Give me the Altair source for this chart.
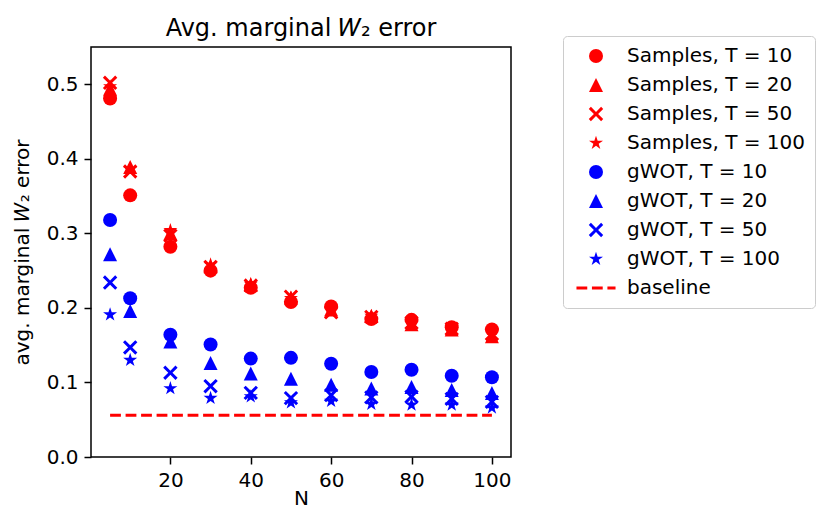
import altair as alt
import pandas as pd

N = [5, 10, 20, 30, 40, 50, 60, 70, 80, 90, 100]
samples_T10 = [0.481, 0.351, 0.282, 0.250, 0.227, 0.208, 0.202, 0.185, 0.184, 0.174, 0.171]
samples_T20 = [0.494, 0.389, 0.300, 0.256, 0.231, 0.214, 0.198, 0.189, 0.178, 0.171, 0.162]
samples_T50 = [0.502, 0.383, 0.297, 0.255, 0.230, 0.215, 0.194, 0.188, 0.180, 0.172, 0.165]
samples_T100 = [0.497, 0.386, 0.304, 0.258, 0.232, 0.213, 0.197, 0.189, 0.179, 0.171, 0.167]
gwot_T10 = [0.318, 0.213, 0.164, 0.151, 0.132, 0.133, 0.125, 0.114, 0.117, 0.109, 0.107]
gwot_T20 = [0.272, 0.196, 0.155, 0.126, 0.112, 0.105, 0.097, 0.092, 0.094, 0.090, 0.086]
gwot_T50 = [0.234, 0.147, 0.113, 0.095, 0.086, 0.079, 0.083, 0.080, 0.081, 0.078, 0.074]
gwot_T100 = [0.191, 0.130, 0.092, 0.079, 0.081, 0.073, 0.075, 0.071, 0.070, 0.070, 0.066]
baseline_N = [5, 100]
baseline_value = 0.056

series_names = [
    "Samples, T = 10", "Samples, T = 20", "Samples, T = 50", "Samples, T = 100",
    "gWOT, T = 10", "gWOT, T = 20", "gWOT, T = 50", "gWOT, T = 100",
]
series_values = [samples_T10, samples_T20, samples_T50, samples_T100,
                 gwot_T10, gwot_T20, gwot_T50, gwot_T100]
legend_domain = series_names + ["baseline"]

rows = []
for name, vals in zip(series_names, series_values):
    for n, v in zip(N, vals):
        rows.append({"N": n, "value": v, "series": name})
points_df = pd.DataFrame(rows)
line_df = pd.DataFrame({"N": baseline_N, "value": [baseline_value] * len(baseline_N)})

RED = "#ff0000"
BLUE = "#0000ff"
colors = [RED] * 4 + [BLUE] * 4 + [RED]

TRI = "M0,-1L1,1L-1,1Z"
e, k, a = 0.88, 0.15, 0.30
XSH = (f"M0,{-a}L{e-k},{-e-k}L{e+k},{-e+k}L{a},0L{e+k},{e-k}L{e-k},{e+k}"
       f"L0,{a}L{-e+k},{e+k}L{-e-k},{e-k}L{-a},0L{-e-k},{-e+k}L{-e+k},{-e-k}Z")
STAR = ("M0,-1.05L0.236,-0.324L0.999,-0.324L0.381,0.124L0.617,0.849L0,0.401"
        "L-0.617,0.849L-0.381,0.124L-0.999,-0.324L-0.236,-0.324Z")
h = 0.207
DASH = (f"M-2.79,{-h}H-1.25V{h}H-2.79Z"
        f"M-0.58,{-h}H0.96V{h}H-0.58Z"
        f"M1.63,{-h}H2.79V{h}H1.63Z")
shapes = ["circle", TRI, XSH, STAR] * 2 + [DASH]

FONT = "DejaVu Sans"

x_enc = alt.X(
    "N:Q",
    scale=alt.Scale(domain=[0.25, 104.75], nice=False, zero=False),
    axis=alt.Axis(values=[20, 40, 60, 80, 100], title="N", titlePadding=-2),
)
y_enc = alt.Y(
    "value:Q",
    scale=alt.Scale(domain=[0, 0.55], nice=False),
    axis=alt.Axis(values=[0, 0.1, 0.2, 0.3, 0.4, 0.5], format=".1f",
                  title="avg. marginal 𝑊₂ error", titlePadding=14),
)

line = alt.Chart(line_df).mark_line(
    color=RED, strokeDash=[10.8, 4.7], strokeWidth=2.9
).encode(x=x_enc, y=y_enc)

points = alt.Chart(points_df).mark_point(
    filled=True, opacity=1, size=196, strokeWidth=0
).encode(
    x=x_enc,
    y=y_enc,
    color=alt.Color("series:N", scale=alt.Scale(domain=legend_domain, range=colors),
                    legend=alt.Legend(title=None)),
    shape=alt.Shape("series:N", scale=alt.Scale(domain=legend_domain, range=shapes),
                    legend=alt.Legend(title=None)),
)

chart = alt.layer(line, points).properties(
    width=420,
    height=410,
    title=alt.TitleParams(
        text="Avg. marginal 𝑊₂ error", fontSize=24, font=FONT, fontWeight="normal",
        anchor="middle", baseline="alphabetic", offset=13, dy=37, frame="group",
        color="black",
    ),
    autosize=alt.AutoSizeParams(type="none"),
    padding={"left": 83, "top": 39, "right": 305, "bottom": 60},
).configure_view(
    stroke="black", strokeWidth=1.5
).configure_axis(
    grid=False, domain=False, tickColor="black", tickWidth=1.5, tickSize=7,
    labelPadding=6, labelFont=FONT, labelFontSize=20, labelColor="black",
    titleFont=FONT, titleFontSize=20, titleFontWeight="normal", titleColor="black",
).configure_legend(
    orient="none", legendX=472, legendY=-11, padding=10, rowPadding=9,
    symbolSize=196, symbolStrokeWidth=0, symbolOffset=13, labelOffset=21,
    labelLimit=0, labelFont=FONT, labelFontSize=20, labelColor="black",
    strokeColor="#cccccc", cornerRadius=4, fillColor="white",
)

chart.save("out.html", embed_options={"renderer": "svg", "actions": False})
